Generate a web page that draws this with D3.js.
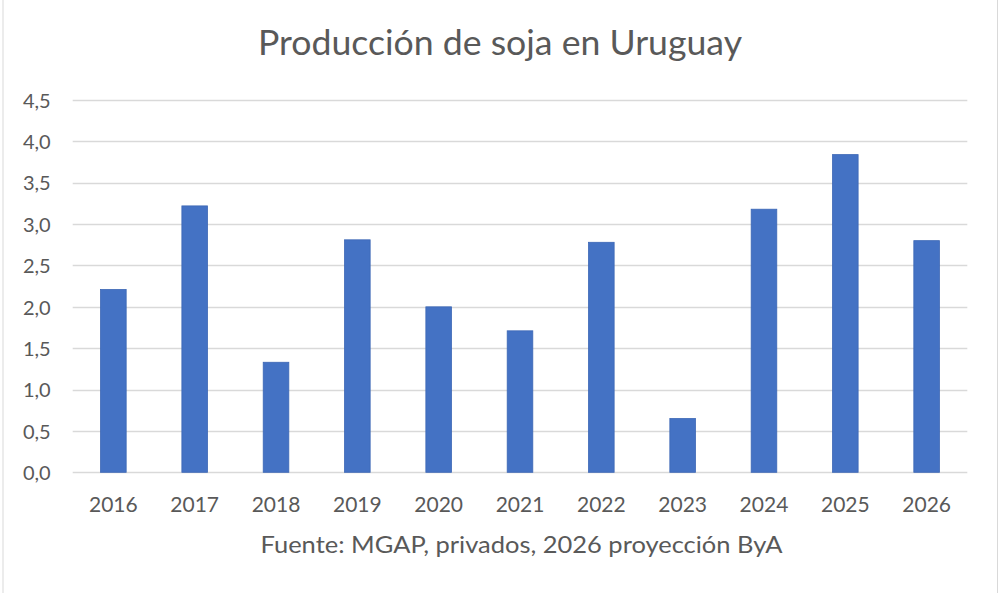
<!DOCTYPE html>
<html>
<head>
<meta charset="utf-8">
<script src="https://cdn.jsdelivr.net/npm/d3@7"></script>
<style>
  body { margin: 0; background: #fff; }
  text { font-family: Lato, "Open Sans", sans-serif; fill: #595959; }
</style>
</head>
<body>
<div class="chart"></div>
<script>
const years = ["2016", "2017", "2018", "2019", "2020", "2021", "2022", "2023", "2024", "2025", "2026"];
const production = [2.21, 3.22, 1.33, 2.81, 2.0, 1.71, 2.78, 0.65, 3.18, 3.84, 2.80];
const yTicks = [0, 0.5, 1, 1.5, 2, 2.5, 3, 3.5, 4, 4.5];
const title = "Producción de soja en Uruguay";
const source = "Fuente: MGAP, privados, 2026 proyección ByA";

const containerWidth = 1000;
const containerHeight = 593;
const margin = { top: 100, right: 32.7, bottom: 120.7, left: 72.7 };
const width = containerWidth - margin.left - margin.right;
const height = containerHeight - margin.top - margin.bottom;

const root = d3.select('.chart')
  .append('svg')
  .attr('width', containerWidth)
  .attr('height', containerHeight);

// chart frame edges (left / right)
root.append('line')
  .attr('x1', 3).attr('x2', 3).attr('y1', 0).attr('y2', containerHeight)
  .attr('stroke', '#d9d9d9').attr('stroke-width', 1);
root.append('line')
  .attr('x1', 997.5).attr('x2', 997.5).attr('y1', 0).attr('y2', containerHeight)
  .attr('stroke', '#d9d9d9').attr('stroke-width', 1);

root.append('text')
  .attr('x', 500)
  .attr('y', 54.5)
  .attr('text-anchor', 'middle')
  .attr('font-size', 34)
  .attr('textLength', 484)
  .attr('lengthAdjust', 'spacingAndGlyphs')
  .text(title);

const svg = root.append('g')
  .attr('transform', `translate(${margin.left}, ${margin.top})`);

const xScale = d3.scaleBand()
  .domain(years)
  .range([0, width])
  .paddingInner(0.685)
  .paddingOuter(0.3425);

const yScale = d3.scaleLinear()
  .domain([0, 4.5])
  .range([height, 0]);

// gridlines
svg.append('g')
  .selectAll('line')
  .data(yTicks)
  .enter()
  .append('line')
  .attr('x1', 0)
  .attr('x2', width)
  .attr('y1', d => Math.round(yScale(d)) + 0.5)
  .attr('y2', d => Math.round(yScale(d)) + 0.5)
  .attr('stroke', '#d9d9d9')
  .attr('stroke-width', 1.3);

// y axis labels
const yAxis = svg.append('g')
  .attr('transform', 'translate(-22, 0)')
  .call(d3.axisLeft(yScale)
    .tickValues(yTicks)
    .tickSize(0)
    .tickFormat(d => d3.format('.1f')(d).replace('.', ',')));
yAxis.select('.domain').remove();
yAxis.selectAll('text')
  .attr('font-size', 20)
  .attr('x', 0)
  .attr('dy', '0.36em')
  .attr('font-family', 'Lato, sans-serif')
  .attr('fill', '#595959');

// bars
svg.selectAll('.bar')
  .data(years.map((y, i) => ({ year: y, value: production[i] })))
  .enter()
  .append('rect')
  .attr('class', 'bar')
  .attr('x', d => xScale(d.year))
  .attr('y', d => yScale(d.value))
  .attr('width', xScale.bandwidth())
  .attr('height', d => height - yScale(d.value))
  .attr('fill', '#4472c4')
  .attr('stroke', '#3c67b5')
  .attr('stroke-width', 0.8);

// x axis labels
const xAxis = svg.append('g')
  .attr('transform', `translate(0, ${height})`)
  .call(d3.axisBottom(xScale).tickSize(0));
xAxis.select('.domain').remove();
xAxis.selectAll('text')
  .attr('font-size', 21)
  .attr('y', 39.4)
  .attr('dy', 0)
  .attr('font-family', 'Lato, sans-serif')
  .attr('fill', '#595959');

root.append('text')
  .attr('x', 521.5)
  .attr('y', 552.7)
  .attr('text-anchor', 'middle')
  .attr('font-size', 23)
  .attr('textLength', 522)
  .attr('lengthAdjust', 'spacingAndGlyphs')
  .text(source);
</script>
</body>
</html>
